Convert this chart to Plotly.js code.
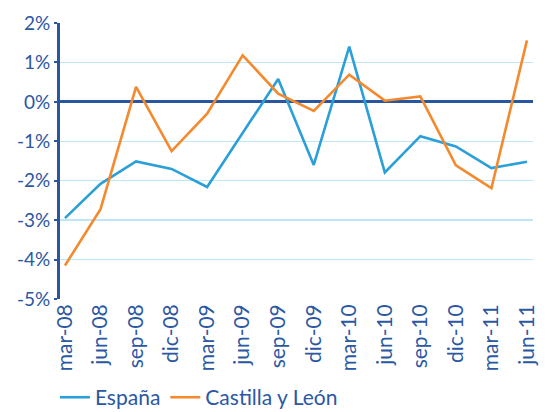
<!DOCTYPE html>
<html><head><meta charset="utf-8">
<script src="https://cdn.plot.ly/plotly-3.0.1.min.js"></script>
<style>body{margin:0;}#c{width:549px;height:412px;}</style>
</head><body><div id="c"></div>
<script>
const categories = ["mar-08","jun-08","sep-08","dic-08","mar-09","jun-09","sep-09","dic-09","mar-10","jun-10","sep-10","dic-10","mar-11","jun-11"];
const espana = [-2.95,-2.08,-1.51,-1.70,-2.16,-0.79,0.58,-1.60,1.40,-1.79,-0.87,-1.13,-1.68,-1.52];
const castilla = [-4.15,-2.72,0.38,-1.25,-0.30,1.18,0.21,-0.23,0.69,0.03,0.14,-1.61,-2.19,1.56];
const yTicks = [2,1,0,-1,-2,-3,-4,-5];
const yLabels = yTicks.map(v => v + "%");

const txt = "#2b57a3";
const data = [
  {x: categories, y: espana, name: "España", type: "scatter", mode: "lines",
   line: {color: "#2a9fd8", width: 2.6}},
  {x: categories, y: castilla, name: "Castilla y León", type: "scatter", mode: "lines",
   line: {color: "#f38a2e", width: 2.6}}
];
const layout = {
  width: 549, height: 412,
  margin: {l: 60, r: 16, t: 23, b: 113},
  paper_bgcolor: "#fff", plot_bgcolor: "#fff",
  font: {family: "Lato, 'Open Sans', sans-serif", color: txt, size: 17},
  showlegend: true,
  legend: {orientation: "h", xref: "container", yref: "container", x: 0.1, y: 0.035,
           xanchor: "left", yanchor: "middle", font: {size: 21, color: txt}},
  xaxis: {type: "category", range: [-0.14, 13.17], tickangle: -90, showgrid: false,
          showline: false, ticks: "", zeroline: false, tickfont: {size: 21, color: txt}},
  yaxis: {range: [-5, 2], tickvals: yTicks, ticktext: yLabels, showgrid: true,
          gridcolor: "#bfe5f6", gridwidth: 1.3, showline: true, linecolor: "#2a56a0",
          linewidth: 3, ticks: "outside", ticklen: 3, tickcolor: "#2a56a0", tickwidth: 2,
          zeroline: true, zerolinecolor: "#2a56a0", zerolinewidth: 3,
          tickfont: {size: 19, color: txt}}
};
Plotly.newPlot("c", data, layout, {displayModeBar: false, staticPlot: true});
</script></body></html>
